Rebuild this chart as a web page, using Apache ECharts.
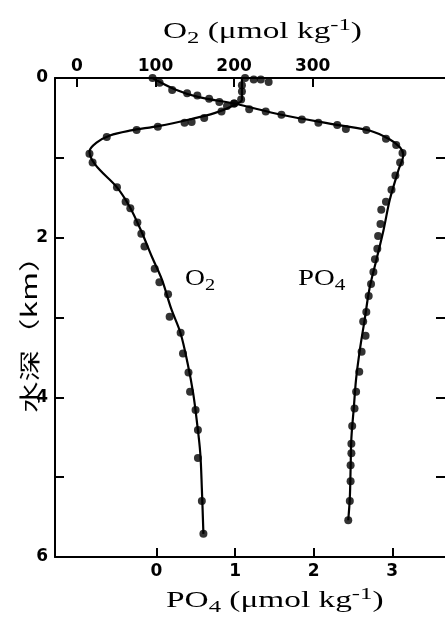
<!DOCTYPE html>
<html><head><meta charset="utf-8">
<script src="https://cdn.jsdelivr.net/npm/echarts@6/dist/echarts.min.js"></script>
<style>html,body{margin:0;padding:0;background:#fff}#c{width:445px;height:621px}</style>
</head><body><div id="c"></div>
<script>
// O2 observations [O2 umol/kg, depth km]
const o2Dots = [[214,0.0],[225,0.02],[234,0.02],[244,0.05],[210,0.09],[210,0.17],[209,0.27],[200,0.32],[191,0.35],[184,0.42],[162,0.50],[146,0.55],[137,0.56],[103,0.61],[76,0.65],[38,0.74],[16,0.95],[20,1.06],[51,1.37],[62,1.55],[68,1.63],[77,1.81],[82,1.95],[86,2.11],[99,2.39],[105,2.56],[116,2.71],[118,2.99],[132,3.19],[135,3.45],[142,3.69],[144,3.93],[151,4.16],[154,4.41],[154,4.76],[159,5.30],[161,5.71]];
// O2 fitted curve
const o2Fit = [[210,0],[210,0.27],[200,0.34],[175,0.44],[143,0.52],[105,0.60],[67,0.66],[42,0.72],[25,0.81],[16,0.92],[19,1.02],[29,1.15],[51,1.37],[67,1.61],[82,1.92],[95,2.23],[108,2.52],[120,2.89],[132,3.20],[141,3.58],[148,3.95],[153,4.33],[157,4.70],[159,5.14],[161,5.71]];
// PO4 observations [PO4 umol/kg, depth km]
const po4Dots = [[-0.05,0.0],[0.04,0.06],[0.20,0.15],[0.39,0.19],[0.52,0.22],[0.67,0.26],[0.80,0.30],[0.99,0.32],[1.18,0.39],[1.39,0.42],[1.59,0.46],[1.85,0.52],[2.06,0.56],[2.30,0.59],[2.41,0.64],[2.67,0.65],[2.92,0.76],[3.05,0.84],[3.13,0.94],[3.10,1.06],[3.04,1.22],[2.99,1.40],[2.92,1.55],[2.86,1.65],[2.85,1.83],[2.82,1.98],[2.81,2.14],[2.78,2.27],[2.76,2.43],[2.73,2.58],[2.70,2.73],[2.67,2.93],[2.63,3.05],[2.66,3.23],[2.61,3.43],[2.58,3.68],[2.54,3.93],[2.52,4.14],[2.49,4.36],[2.48,4.58],[2.48,4.70],[2.47,4.85],[2.47,5.05],[2.46,5.30],[2.44,5.54]];
// PO4 fitted curve
const po4Fit = [[-0.05,0],[0.23,0.14],[0.54,0.24],[0.99,0.32],[1.59,0.46],[2.32,0.59],[2.72,0.66],[2.97,0.77],[3.10,0.87],[3.14,0.96],[3.08,1.15],[2.97,1.52],[2.89,1.90],[2.80,2.27],[2.71,2.64],[2.65,3.02],[2.59,3.39],[2.54,3.77],[2.51,4.14],[2.48,4.51],[2.47,4.89],[2.46,5.26],[2.44,5.54]];
const o2Ticks = [0,100,200,300];
const po4Ticks = [0,1,2,3];
const depthTicks = [0,1,2,3,4,5,6];
const depthLabels = [0,2,4,6];
const rightTicks = [1,2,3,4,5];

const chart = echarts.init(document.getElementById('c'), null, {renderer:'canvas'});
const tickFont = {fontFamily:'DejaVu Sans', fontWeight:'bold', fontSize:17, color:'#000'};
const axLine = {show:true, onZero:false, lineStyle:{color:'#000', width:2}};
const serif = 'Liberation Serif';
const richT = {
  m:{fontFamily:serif, fontSize:23, color:'#000', lineHeight:30},
  sub:{fontFamily:serif, fontSize:17, color:'#000', lineHeight:16, verticalAlign:'bottom'},
  sup:{fontFamily:serif, fontSize:17, color:'#000', lineHeight:16, verticalAlign:'top'}
};
chart.setOption({
  animation:false,
  grid:{left:55, top:78, width:392, height:479},
  xAxis:[
    {type:'value', position:'top', min:-27.85, max:468.4,
     axisLine:axLine, splitLine:{show:false},
     axisTick:{show:true, inside:true, length:9, customValues:o2Ticks, lineStyle:{color:'#000', width:2}},
     axisLabel:{show:true, margin:3, customValues:o2Ticks, ...tickFont}},
    {type:'value', position:'bottom', min:-1.291, max:3.671,
     axisLine:axLine, splitLine:{show:false},
     axisTick:{show:true, inside:true, length:9, customValues:po4Ticks, lineStyle:{color:'#000', width:2}},
     axisLabel:{show:true, margin:6, customValues:po4Ticks, ...tickFont}}
  ],
  yAxis:[
    {type:'value', inverse:true, min:0, max:6, position:'left',
     axisLine:axLine, splitLine:{show:false},
     axisTick:{show:true, inside:true, length:9, customValues:depthTicks, lineStyle:{color:'#000', width:2}},
     axisLabel:{show:true, margin:7, customValues:depthLabels, ...tickFont}},
    {type:'value', inverse:true, min:0, max:6, position:'right',
     axisLine:{show:false, onZero:false}, splitLine:{show:false},
     axisTick:{show:true, inside:true, length:9, customValues:rightTicks, lineStyle:{color:'#000', width:2}},
     axisLabel:{show:false}}
  ],
  graphic:[
    {type:'text', x:163, y:17, scaleX:1.45, style:{text:'{m|O}{sub|2}{m| (μmol kg}{sup|-1}{m|)}', rich:richT}},
    {type:'text', x:166, y:586, scaleX:1.45, style:{text:'{m|PO}{sub|4}{m| (μmol kg}{sup|-1}{m|)}', rich:richT}},
    {type:'text', x:185, y:264, scaleX:1.2, style:{text:'{m|O}{sub|2}', rich:richT}},
    {type:'text', x:298, y:264, scaleX:1.25, style:{text:'{m|PO}{sub|4}', rich:richT}},
    {type:'text', x:19, y:413, rotation:Math.PI/2, scaleX:1.5, style:{text:'水深（km）', font:'21px "Noto Sans CJK SC"', fill:'#000', textVerticalAlign:'top'}}
  ],
  series:[
    {type:'line', xAxisIndex:0, yAxisIndex:0, data:o2Fit, smooth:0.35, symbol:'none', lineStyle:{color:'#000', width:2.2}},
    {type:'scatter', xAxisIndex:0, yAxisIndex:0, data:o2Dots, symbolSize:8, itemStyle:{color:'#000'}},
    {type:'line', xAxisIndex:1, yAxisIndex:0, data:po4Fit, smooth:0.35, symbol:'none', lineStyle:{color:'#000', width:2.2}},
    {type:'scatter', xAxisIndex:1, yAxisIndex:0, data:po4Dots, symbolSize:8, itemStyle:{color:'#000'}}
  ]
});
</script></body></html>
